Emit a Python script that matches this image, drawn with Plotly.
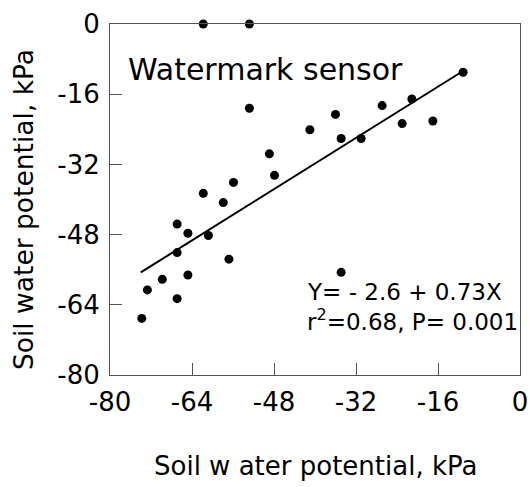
import plotly.graph_objects as go

# ── Data ──────────────────────────────────────────────────────────────────────

sensor_x = [-61.8, -52.8, -11.1, -52.8, -21.1, -26.9, -36.0, -17.0, -23.0,
            -41.0, -34.9, -31.0, -48.9, -47.9, -55.9, -61.8, -57.9, -66.9,
            -64.8, -60.8, -66.9, -56.8, -64.8, -69.8, -72.7, -66.9, -73.8,
            -34.9]
sensor_y = [0.0, 0.0, -11.0, -19.2, -17.1, -18.6, -20.6, -22.1, -22.7,
            -24.1, -26.1, -26.1, -29.6, -34.5, -36.1, -38.6, -40.7, -45.6,
            -47.7, -48.2, -52.1, -53.6, -57.2, -58.2, -60.6, -62.6, -67.1,
            -56.6]

# regression Y = a + bX over the fitted range
fit_a, fit_b = -2.6, 0.73
fit_range = [-74.0, -11.5]

tick_vals = [-80, -64, -48, -32, -16, 0]
tick_text = [str(v) for v in tick_vals]   # plain hyphen, as in the original

FONT = "DejaVu Sans"

# ── Figure ─────────────────────────────────────────────────────────────────────

fig = go.Figure()

fig.add_trace(go.Scatter(
    x=fit_range, y=[fit_a + fit_b * v for v in fit_range],
    mode="lines", line=dict(color="black", width=2),
    hoverinfo="skip", showlegend=False,
))

fig.add_trace(go.Scatter(
    x=sensor_x, y=sensor_y, mode="markers",
    marker=dict(color="black", size=9),
    cliponaxis=False, showlegend=False,
))

axis_common = dict(
    tickvals=tick_vals, ticktext=tick_text, automargin=False,
    showgrid=False, zeroline=False,
    showline=True, linecolor="#555", linewidth=1, mirror=True,
    ticks="inside", ticklen=12, tickcolor="#555",
    tickfont=dict(family=FONT, size=26, color="black"),
)

fig.update_xaxes(range=[-80, 0], ticklabelstandoff=4, **axis_common)
fig.update_yaxes(range=[-80, 0], ticklabelstandoff=4, **axis_common)

ann_font = dict(family=FONT, color="black")
fig.add_annotation(text="Watermark sensor", xref="paper", yref="paper",
                   x=0.04, y=0.87, xanchor="left", yanchor="middle",
                   showarrow=False, font=dict(size=30, **ann_font))
fig.add_annotation(text="Y= - 2.6 + 0.73X", xref="paper", yref="paper",
                   x=0.475, y=0.237, xanchor="left", yanchor="middle",
                   showarrow=False, font=dict(size=23, **ann_font))
fig.add_annotation(text="r<sup>2</sup>=0.68, P= 0.001", xref="paper", yref="paper",
                   x=0.475, y=0.158, xanchor="left", yanchor="middle",
                   showarrow=False, font=dict(size=23, **ann_font))

# axis titles as annotations for exact placement
fig.add_annotation(text="Soil w ater potential, kPa", xref="paper", yref="paper",
                   x=0.5, y=-0.26, xanchor="center", yanchor="middle",
                   showarrow=False, font=dict(size=26, **ann_font))
fig.add_annotation(text="Soil water potential, kPa", xref="paper", yref="paper",
                   x=-0.212, y=0.47, xanchor="center", yanchor="middle",
                   textangle=-90, showarrow=False, font=dict(size=26.5, **ann_font))

fig.update_layout(
    width=530, height=487,
    margin=dict(l=110, r=10, t=24, b=112),
    plot_bgcolor="white", paper_bgcolor="white",
    font=dict(family=FONT),
)

# drop the page's default body margin so the figure fills the window exactly
fig.write_html("out.html",
               config={"displayModeBar": False},
               post_script="document.body.style.margin='0';"
                           "document.body.style.overflow='hidden';")
